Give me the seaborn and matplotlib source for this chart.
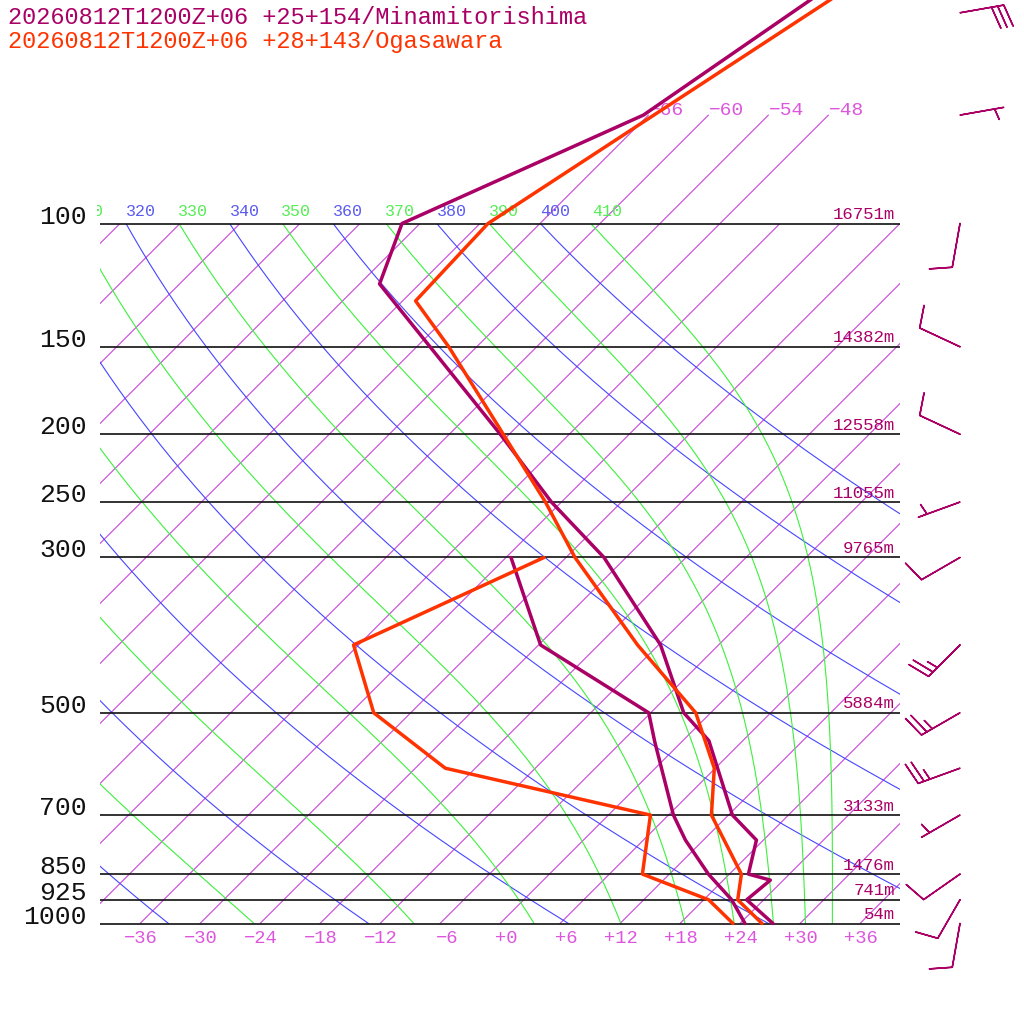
import numpy as np
import pandas as pd
import matplotlib
matplotlib.use("Agg")
import matplotlib.pyplot as plt
from matplotlib.patches import Rectangle
import seaborn as sns

# --- soundings (hPa, degC) ---
STATIONS = ["20260812T1200Z+06 +25+154/Minamitorishima",
            "20260812T1200Z+06 +28+143/Ogasawara"]

mina_t_p = [1000, 925, 867, 850, 760, 700, 548, 500, 400, 300, 250, 200, 122, 100, 70, 30]
mina_t = [27.3, 22.3, 22.7, 19.9, 17.3, 12.4, 2.6, -2.7, -11.8, -26.2, -37.0, -48.9,
          -76.0, -79.8, -66.5, -54.9]
mina_td_p = [1000, 925, 850, 760, 700, 550, 500, 400, 300]
mina_td = [24.5, 20.8, 15.9, 10.2, 6.5, -2.7, -6.2, -23.8, -35.5]

oga_t_p = [1000, 925, 850, 700, 600, 500, 400, 300, 250, 200, 150, 129, 100, 30]
oga_t = [26.2, 21.4, 19.2, 10.3, 5.9, -1.5, -14.1, -29.1, -37.6, -48.6, -62.8, -70.7, -71.2, -51.8]
oga_td_p = [1000, 925, 850, 700, 600, 500, 400, 300]
oga_td = [23.3, 18.5, 9.3, 4.2, -21.0, -33.7, -42.5, -32.2]

# standard levels with geopotential height (Minamitorishima)
levels = [100, 150, 200, 250, 300, 500, 700, 850, 925, 1000]
heights = [16751, 14382, 12558, 11055, 9765, 5884, 3133, 1476, 741, 54]

# wind (Minamitorishima): direction deg, speed
barb_p = [1000, 925, 850, 700, 600, 500, 400, 300, 250, 200, 150, 100, 70, 50]
barb_dir = [190, 210, 235, 240, 250, 240, 225, 240, 250, 295, 295, 190, 80, 80]
barb_spd = [10, 10, 10, 5, 25, 25, 25, 10, 5, 10, 10, 10, 5, 30]

# reference lines
isotherms = list(range(-108, 42, 6))
isotherm_top = [-66, -60, -54, -48]
isotherm_labels = list(range(-36, 42, 6))
dry_thetas = list(range(240, 420, 20))
moist_thetas = list(range(250, 430, 20))
theta_labels = list(range(310, 420, 10))

C_MINA = "#aa0066"
C_OGA = "#ff3300"
C_ISO = "#cc44dd"
C_ISO_TXT = "#dd55dd"
C_DRY = "#4646ff"
C_MOIST = "#3cf03c"
MONO = ["Liberation Mono", "DejaVu Sans Mono"]

# layout: 10 px per degC, 700 px per pressure decade, 45 degree skew
SKEW = 70.0
X_MIN, X_MAX = -50.0, 52.4
P_BOT = 1000 * 10 ** ((1024 - 923.5) / 700)
P_TOP = 1000 * 10 ** (-923.5 / 700)
BARB_X = 46.0


def skew_x(t, p):
    return np.asarray(t, float) + SKEW * np.log10(1000.0 / np.asarray(p, float))


EPS = 0.622


def theta_e(t_k, p):
    # Bolton (1980) equivalent potential temperature of a saturated parcel
    es = 6.112 * np.exp(17.67 * (t_k - 273.15) / (t_k - 29.65))
    ok = (p - es) > 1.0
    r = np.where(ok, 1000 * EPS * es / np.where(ok, p - es, 1.0), 1e4)
    r = np.minimum(r, 1e4)
    kap = 0.2854 * (1 - 0.28e-3 * r)
    return t_k * (1000.0 / p) ** kap * np.exp((3.376 / t_k - 0.00254) * r * (1 + 0.81e-3 * r))


def theta_e_line(th, p):
    lo = np.full_like(p, 150.0)
    hi = np.full_like(p, 330.0)
    for _ in range(60):
        mid = 0.5 * (lo + hi)
        big = theta_e(mid, p) > th
        hi = np.where(big, mid, hi)
        lo = np.where(big, lo, mid)
    return 0.5 * (lo + hi) - 273.15


sns.set_theme(style="white")
plt.rcParams["font.family"] = MONO

fig = plt.figure(figsize=(10.24, 10.24), dpi=100)
ax = fig.add_axes([0, 0, 1, 1])
ax.set_yscale("log")
ax.set_xlim(X_MIN, X_MAX)
ax.set_ylim(P_BOT, P_TOP)
ax.axis("off")

box = Rectangle((-40, 1000), 80, 100 - 1000, transform=ax.transData)
label_box = Rectangle((-40.3, 1000), 80.3, 50 - 1000, transform=ax.transData)

pgrid = np.geomspace(1000, 100, 300)

# isotherms
for t in isotherms:
    ln, = ax.plot(skew_x(t, pgrid), pgrid, color=C_ISO, lw=0.8, zorder=1)
    ln.set_clip_path(box)
ptop = np.geomspace(100, 70, 30)
for t in isotherm_top:
    ax.plot(skew_x(t, ptop), ptop, color=C_ISO, lw=0.8, zorder=1)
    ax.text(skew_x(t, 70), 70, f"{t:+d}".replace("-", "\u2212"), color=C_ISO_TXT,
            fontsize=14, ha="left", va="baseline")

# dry adiabats
for th in dry_thetas:
    t = th * (pgrid / 1000.0) ** 0.2857 - 273.15
    ln, = ax.plot(skew_x(t, pgrid), pgrid, color=C_DRY, lw=0.8, zorder=1)
    ln.set_clip_path(box)

# saturated equivalent potential temperature lines
for th in moist_thetas:
    t = theta_e_line(th, pgrid)
    ln, = ax.plot(skew_x(t, pgrid), pgrid, color=C_MOIST, lw=0.8, zorder=1)
    ln.set_clip_path(box)

# theta labels along 100 hPa
for th in theta_labels:
    dry = (th // 10) % 2 == 0
    x = skew_x(th * 0.1 ** 0.2857 - 273.15, 100)
    txt = ax.annotate(str(th), (x, 100), xytext=(0, 3), textcoords="offset points",
                      color="#5a5af0" if dry else "#55ee55", fontsize=12,
                      ha="left", va="bottom")
    txt.set_clip_path(label_box)

# isobars, pressure and height labels
for p, h in zip(levels, heights):
    ax.hlines(p, -40, 40, color="#111111", lw=1.2, zorder=2)
    ax.text(-41.3, p, str(p), fontsize=19, color="#111111", ha="right", va="baseline")
    ax.annotate(f"{h}m", (39.5, p), xytext=(0, 1), textcoords="offset points",
                color=C_MINA, fontsize=12.5, ha="right", va="bottom")

for t in isotherm_labels:
    lab = f"{t:+d}".replace("-", "\u2212")
    ax.annotate(lab, (t + 1.8, 1000), xytext=(0, -5), textcoords="offset points",
                color=C_ISO_TXT, fontsize=13.5, ha="right", va="top")

# soundings
profiles = [
    (mina_t_p, mina_t, C_MINA),
    (mina_td_p, mina_td, C_MINA),
    (oga_t_p, oga_t, C_OGA),
    (oga_td_p, oga_td, C_OGA),
]
for p, t, color in profiles:
    df = pd.DataFrame({"x": skew_x(t, p), "p": p})
    sns.lineplot(data=df, x="x", y="p", sort=False, estimator=None,
                 color=color, lw=2.5, ax=ax, zorder=4)

# wind barbs
d = np.deg2rad(barb_dir)
u = -np.array(barb_spd) * np.sin(d)
v = -np.array(barb_spd) * np.cos(d)
ax.barbs(np.full(len(barb_p), BARB_X), barb_p, u, v, length=8, color=C_MINA,
         lw=1.1, sizes=dict(height=0.5, spacing=0.14), zorder=5)

ax.set_xlim(X_MIN, X_MAX)
ax.set_ylim(P_BOT, P_TOP)
ax.axis("off")

fig.text(8 / 1024, 1 - 6 / 1024, STATIONS[0], color=C_MINA, fontsize=17,
         ha="left", va="top")
fig.text(8 / 1024, 1 - 30 / 1024, STATIONS[1], color=C_OGA, fontsize=17,
         ha="left", va="top")

fig.savefig("out.png", dpi=100, facecolor="white")
